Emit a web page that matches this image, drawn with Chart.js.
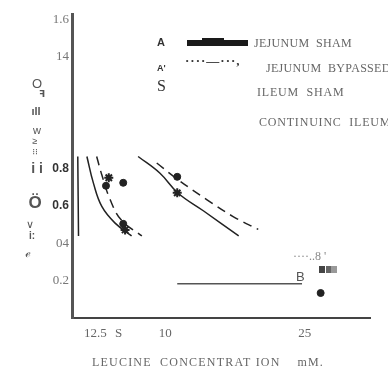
<!DOCTYPE html>
<html>
<head>
<meta charset="utf-8">
<script src="https://cdn.jsdelivr.net/npm/chart.js@4/dist/chart.umd.min.js"></script>
<style>
  body { margin: 0; background: #fff; }
  #chart { display: block; }
</style>
</head>
<body>
<canvas id="chart" width="388" height="369"></canvas>
<script>
// axis ticks (as printed on the scan)
const xTickValues = [2.5, 5, 10, 25];
const xTickLabels = ['12.5', 'S', '10', '25'];
const yTickValues = [0.2, 0.4, 0.6, 0.8, 1.4, 1.6];
const yTickLabels = ['0.2', '04', '0.6', '0.8', '14', '1.6'];

// curves, [leucine mM, rate]
const jejShamCurve = [[1.6, 0.866], [2.3, 0.723], [3.2, 0.598], [4.6, 0.51], [6.4, 0.44]];
const jejBypassCurve = [[2.65, 0.866], [3.2, 0.768], [4.1, 0.634], [5.3, 0.525], [7.5, 0.44]];
const ileumShamCurve = [[7.1, 0.866], [9.45, 0.776], [11.4, 0.669], [14.1, 0.575], [17.9, 0.44]];
const contIleumCurve = [[9.1, 0.831], [11.4, 0.741], [14.5, 0.634], [17.3, 0.544], [20.0, 0.475]];
const edgeLine = [[0.62, 0.866], [0.7, 0.44]];

// measured points
const dotPoints = [[3.65, 0.709], [5.5, 0.725], [5.5, 0.505], [11.3, 0.757], [26.7, 0.134]];
const starPoints = [[3.95, 0.752], [5.7, 0.472], [11.3, 0.671]];
const lineB = [[11.3, 0.183], [24.7, 0.183]];

const xy = arr => arr.map(p => ({ x: p[0], y: p[1] }));

const curve = (data, dash) => ({
  type: 'line',
  data: xy(data),
  borderColor: '#222',
  borderWidth: 1.5,
  borderDash: dash ? [9, 6] : [],
  pointRadius: 0,
  tension: 0.4,
  fill: false
});

const serif = 'Liberation Serif, DejaVu Serif, serif';
const sans = 'Liberation Sans, DejaVu Sans, sans-serif';

const textPlugin = {
  id: 'scanText',
  afterDraw(chart) {
    const c = chart.ctx;
    c.save();
    c.textBaseline = 'middle';

    // legend
    c.textAlign = 'left';
    c.fillStyle = '#333';
    c.font = 'bold 11px ' + sans;
    c.fillText('A', 157, 43);
    c.font = 'bold 9px ' + sans;
    c.fillText("A'", 157, 69);
    c.font = '16px ' + serif;
    c.fillText('S', 157, 87);
    c.fillStyle = '#1a1a1a';
    c.fillRect(187, 40, 61, 6);
    c.fillRect(202, 38, 22, 2);
    c.fillStyle = '#333';
    c.font = 'bold 13px ' + serif;
    c.letterSpacing = '1px';
    c.fillText('····—···,', 185, 62);

    c.fillStyle = '#666';
    c.font = '12px ' + serif;
    c.letterSpacing = '0.3px';
    c.fillText('JEJUNUM  SHAM', 254, 44);
    c.fillText('JEJUNUM  BYPASSED', 266, 69);
    c.letterSpacing = '0.8px';
    c.fillText('ILEUM  SHAM', 257, 93);
    c.fillText('CONTINUINC  ILEUM', 259, 123);
    c.letterSpacing = '0px';

    // lower-right key fragment
    c.fillStyle = '#888';
    c.font = '12px ' + serif;
    c.fillText('····..8 \'', 293, 257);
    c.fillStyle = '#444'; c.fillRect(319, 266, 6, 7);
    c.fillStyle = '#666'; c.fillRect(326, 266, 5, 7);
    c.fillStyle = '#999'; c.fillRect(331, 266, 6, 7);
    c.fillStyle = '#555';
    c.font = '13px ' + sans;
    c.fillText('B', 296, 277);

    // x title
    c.fillStyle = '#666';
    c.font = '12px ' + serif;
    c.letterSpacing = '1.2px';
    c.fillText('LEUCINE  CONCENTRAT ION    mM.', 92, 363);
    c.letterSpacing = '0px';

    // y title (scrambled glyphs)
    c.textAlign = 'center';
    c.fillStyle = '#555';
    const glyphs = [
      ['O', 37, 84, '13px ' + sans],
      ['ꟻ', 42, 95, 'bold 9px ' + sans],
      ['ıll', 36, 112, 'bold 11px ' + sans],
      ['w', 37, 131, '11px ' + sans],
      ['≥', 35, 142, '9px ' + sans],
      ['⁝⁝', 35, 152, '9px ' + sans],
      ['i i', 37, 169, 'bold 14px ' + sans],
      ['Ö', 35, 203, 'bold 17px ' + sans],
      ['∨', 30, 225, '11px ' + sans],
      ['i:', 32, 236, 'bold 10px ' + sans],
      ['ℯ', 28, 254, '12px ' + serif]
    ];
    glyphs.forEach(g => { c.font = g[3]; c.fillText(g[0], g[1], g[2]); });
    c.restore();
  }
};

new Chart(document.getElementById('chart'), {
  type: 'scatter',
  data: {
    datasets: [
      curve(jejShamCurve, false),
      curve(jejBypassCurve, true),
      curve(ileumShamCurve, false),
      curve(contIleumCurve, true),
      curve(edgeLine, false),
      {
        type: 'line',
        data: xy(lineB),
        borderColor: '#555',
        borderWidth: 1.5,
        pointRadius: 0
      },
      {
        data: xy(dotPoints),
        pointStyle: 'circle',
        pointRadius: 3.5,
        backgroundColor: '#222',
        borderColor: '#222'
      },
      {
        data: xy(starPoints),
        pointStyle: 'star',
        pointRadius: 4.5,
        borderWidth: 2,
        backgroundColor: '#222',
        borderColor: '#222'
      }
    ]
  },
  options: {
    responsive: false,
    animation: false,
    devicePixelRatio: 1,
    layout: { padding: { top: 14, right: 18, left: 0, bottom: 0 } },
    plugins: { legend: { display: false }, tooltip: { enabled: false } },
    scales: {
      x: {
        type: 'linear',
        min: 0,
        max: 32,
        afterFit: s => { s.height = 51; },
        afterBuildTicks: s => { s.ticks = xTickValues.map(v => ({ value: v })); },
        grid: { display: false, drawTicks: false },
        border: { color: '#444', width: 2 },
        ticks: {
          autoSkip: false,
          maxRotation: 0,
          padding: 8,
          color: '#666',
          font: { family: serif, size: 13 },
          callback: (v, i) => xTickLabels[i]
        }
      },
      y: {
        type: 'linear',
        min: 0,
        max: 1.63,
        afterFit: s => { s.width = 72; },
        afterBuildTicks: s => { s.ticks = yTickValues.map(v => ({ value: v })); },
        grid: { display: false, drawTicks: false },
        border: { color: '#555', width: 3 },
        ticks: {
          autoSkip: false,
          padding: 3,
          color: ctx => (ctx.tick && (ctx.tick.value === 0.8 || ctx.tick.value === 0.6)) ? '#333' : '#777',
          font: ctx => (ctx.tick && (ctx.tick.value === 0.8 || ctx.tick.value === 0.6))
            ? { family: sans, size: 12, weight: 'bold' }
            : { family: serif, size: 13 },
          callback: (v, i) => yTickLabels[i]
        }
      }
    }
  },
  plugins: [textPlugin]
});
</script>
</body>
</html>
